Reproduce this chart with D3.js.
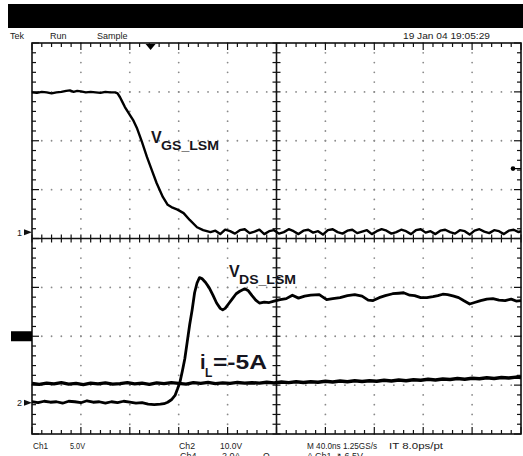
<!DOCTYPE html>
<html>
<head>
<meta charset="utf-8">
<script src="https://cdn.jsdelivr.net/npm/d3@7"></script>
<style>
  html, body { margin: 0; padding: 0; background: #fff; }
  svg { display: block; }
  text { font-family: "Liberation Sans", Arial, sans-serif; }
</style>
</head>
<body>
<div id="scope"></div>
<script>
// traces: [time in ns, value in channel units]
const vgsTrace = [
    [0,14.3],[4,14.25],[8,14.35],[12,14.3],[16,14.2],[20,14.3],[24,14.35],[28,14.45],[31,14.5],[34,14.35],
    [37,14.45],[40,14.4],[44,14.3],[48,14.35],[52,14.3],[56,14.25],[60,14.35],[64,14.3],[68,14.3],[70,14.2],
    [72,13.8],[74,13.3],[76,12.8],[80,12.0],[83,11.4],[86,10.6],[90,9.2],[94,7.7],[98,6.35],[102,5.0],
    [107,3.6],[111,2.8],[115,2.5],[119,2.3],[124,1.95],[129,1.25],[135,0.5],[140,0.2],[146,0.0],
    [150,0.15],[154,-0.2],[158,0.25],[162,0.1],[166,-0.15],[170,0.2],[174,0.3],[178,-0.1],[182,0.05],[186,0.25],
    [190,-0.2],[194,0.1],[198,0.2],[202,-0.15],[206,0.0],[210,0.3],[214,0.1],[218,-0.2],[222,0.15],[226,0.25],
    [230,-0.05],[234,0.1],[238,-0.25],[242,0.2],[246,0.3],[250,0.0],[254,-0.15],[258,0.15],[262,0.25],[266,-0.1],
    [270,0.05],[274,0.2],[278,-0.2],[282,0.1],[286,0.3],[290,0.15],[294,-0.15],[298,0.0],[302,0.25],[306,0.1],
    [310,-0.2],[314,0.2],[318,0.3],[322,-0.05],[326,0.1],[330,-0.2],[334,0.15],[338,0.25],[342,0.0],[346,-0.15],
    [350,0.2],[354,0.1],[358,-0.25],[362,0.15],[366,0.3],[370,0.05],[374,-0.1],[378,0.2],[382,0.1],[386,-0.2],
    [390,0.15],[394,0.25],[398,0.0],[400,0.1]
];
const vdsTrace = [
    [0,0.2],[5,0.0],[10,0.3],[15,0.1],[20,0.2],[25,-0.1],[30,0.3],[35,0.2],[40,0.0],[45,0.4],
    [50,0.1],[55,0.2],[60,-0.1],[65,0.2],[70,0.0],[75,0.3],[80,0.1],[85,-0.1],[90,0.0],[95,-0.3],
    [100,-0.4],[105,-0.3],[108,-0.2],[111,0.1],[114,0.6],[117,1.5],[119,2.8],[121,4.2],[123,6.5],[125,9.0],
    [127,12.5],[129,16.0],[131,19.0],[133,22.5],[135,24.5],[137,25.6],[139,25.4],[142,24.6],[145,23.5],[148,22.0],
    [151,20.4],[154,19.3],[156,19.0],[158,19.3],[161,20.3],[164,21.3],[167,22.3],[170,22.8],[174,23.3],[177,22.9],
    [180,21.9],[183,21.0],[186,20.4],[190,20.6],[194,20.5],[198,20.8],[203,21.1],[208,21.3],[213,22.0],[218,21.4],
    [223,21.8],[228,22.0],[235,22.1],[241,21.1],[246,21.3],[252,21.5],[258,21.9],[264,22.1],[270,21.8],[275,21.0],
    [279,20.9],[284,21.5],[289,21.9],[295,22.3],[300,22.4],[304,22.5],[309,22.0],[313,21.9],[318,21.5],[323,21.5],
    [328,21.7],[332,21.9],[336,22.2],[340,22.1],[345,21.8],[349,21.5],[353,20.9],[358,20.2],[362,20.5],[367,20.9],
    [372,21.2],[377,21.3],[382,21.0],[387,20.9],[392,21.2],[396,20.8],[400,20.9]
];
const ilTrace = [
    [0,-1.93],[6,-1.97],[12,-1.92],[18,-1.95],[24,-1.90],[30,-1.96],[36,-1.93],[42,-1.98],[48,-1.92],[54,-1.95],
    [60,-1.91],[66,-1.96],[72,-1.94],[78,-1.90],[84,-1.95],[90,-1.92],[96,-1.97],[102,-1.91],[108,-1.94],[114,-1.90],
    [120,-1.93],[126,-1.96],[132,-1.90],[138,-1.93],[144,-1.89],[150,-1.94],[156,-1.91],[162,-1.93],[168,-1.89],[174,-1.92],
    [180,-1.90],[186,-1.92],[192,-1.88],[198,-1.91],[204,-1.87],[210,-1.90],[216,-1.86],[222,-1.89],[228,-1.86],[234,-1.88],
    [240,-1.84],[246,-1.87],[252,-1.83],[258,-1.86],[264,-1.82],[270,-1.85],[276,-1.82],[282,-1.84],[288,-1.80],[294,-1.83],
    [300,-1.79],[306,-1.82],[312,-1.78],[318,-1.80],[324,-1.76],[330,-1.79],[336,-1.75],[342,-1.77],[348,-1.73],[354,-1.76],
    [360,-1.72],[366,-1.74],[372,-1.70],[378,-1.73],[384,-1.69],[390,-1.71],[396,-1.67],[400,-1.69]
];

// texts on the screen
const statusLabels = ['Tek', 'Run', 'Sample'];
const dateLabel = '19 Jan 04 19:05:29';
const readoutRow1 = ['Ch1', '5.0V', 'Ch2', '10.0V', 'M 40.0ns 1.25GS/s', 'IT 8.0ps/pt'];
const readoutRow2 = ['Ch4', '2.0A', '\u03a9', 'A  Ch1  \u2197  6.5V'];
const vgsLabel = ['V', 'GS_LSM'];
const vdsLabel = ['V', 'DS_LSM'];
const ilLabel = ['i', 'L', '=-5A'];

// scope settings: units per division and ground position in divisions from centre
const ch1 = {perDiv: 5, position: 0.13};
const ch2 = {perDiv: 10, position: -3.36};
const ch4 = {perDiv: 2, position: -2.0};
const timePerDiv = 40;
const triggerTime = 97;
const triggerLevel = 6.5;

const width = 523, height = 456;
const margin = {top: 43, right: 2, bottom: 22, left: 32};
const plotW = width - margin.left - margin.right;
const plotH = height - margin.top - margin.bottom;

const svg = d3.select('#scope').append('svg')
    .attr('width', width)
    .attr('height', height);

// black title strip
svg.append('rect').attr('x', 8).attr('y', 4).attr('width', width - 8).attr('height', 24).attr('fill', '#000');

const x = d3.scaleLinear().domain([0, 10 * timePerDiv]).range([0, plotW]);
const yDiv = d3.scaleLinear().domain([-4, 4]).range([plotH, 0]);
// per channel value -> pixel
const yCh = ch => v => yDiv(v / ch.perDiv + ch.position);

const g = svg.append('g').attr('transform', `translate(${margin.left},${margin.top})`);

// dotted graticule
const dots = g.append('g').attr('fill', '#8a8a8a');
d3.range(1, 10).filter(i => i !== 5).forEach(i => {
    d3.range(-20, 21).forEach(k => {
        dots.append('circle').attr('cx', x(i * timePerDiv)).attr('cy', yDiv(k * 0.2)).attr('r', 0.9);
    });
});
d3.range(-3, 4).filter(j => j !== 0).forEach(j => {
    d3.range(0, 51).forEach(k => {
        dots.append('circle').attr('cx', x(k * timePerDiv / 5)).attr('cy', yDiv(j)).attr('r', 0.9);
    });
});

// centre axes with minor ticks
const axes = g.append('g').attr('stroke', '#111');
const cx = x(5 * timePerDiv), cy = yDiv(0);
axes.append('line').attr('x1', 0).attr('x2', plotW).attr('y1', cy).attr('y2', cy).attr('stroke-width', 1.6);
axes.append('line').attr('x1', cx).attr('x2', cx).attr('y1', 0).attr('y2', plotH).attr('stroke-width', 1.6);
d3.range(0, 51).forEach(k => {
    const px = x(k * timePerDiv / 5);
    axes.append('line').attr('x1', px).attr('x2', px).attr('y1', cy - 4).attr('y2', cy + 4).attr('stroke-width', 1.2);
    // border ticks top and bottom
    const len = k % 5 === 0 ? 7 : 4;
    axes.append('line').attr('x1', px).attr('x2', px).attr('y1', 0).attr('y2', len).attr('stroke-width', 1.2);
    axes.append('line').attr('x1', px).attr('x2', px).attr('y1', plotH).attr('y2', plotH - len).attr('stroke-width', 1.2);
});
d3.range(-20, 21).forEach(k => {
    const py = yDiv(k * 0.2);
    axes.append('line').attr('x1', cx - 4).attr('x2', cx + 4).attr('y1', py).attr('y2', py).attr('stroke-width', 1.2);
    const len = k % 5 === 0 ? 7 : 4;
    axes.append('line').attr('x1', 0).attr('x2', len).attr('y1', py).attr('y2', py).attr('stroke-width', 1.2);
    axes.append('line').attr('x1', plotW).attr('x2', plotW - len).attr('y1', py).attr('y2', py).attr('stroke-width', 1.2);
});
g.append('rect').attr('width', plotW).attr('height', plotH)
    .attr('fill', 'none').attr('stroke', '#111').attr('stroke-width', 1.6);

// traces
const drawTrace = (data, ch, w) => {
    const line = d3.line().x(d => x(d[0])).y(d => yCh(ch)(d[1]));
    g.append('path').datum(data)
        .attr('d', line)
        .attr('fill', 'none')
        .attr('stroke', '#000')
        .attr('stroke-width', w)
        .attr('stroke-linejoin', 'round');
};
drawTrace(ilTrace, ch4, 3.4);
drawTrace(vdsTrace, ch2, 2.8);
drawTrace(vgsTrace, ch1, 2.4);

// ground markers on the left
[[ch1, '1'], [ch2, '2']].forEach(([ch, name]) => {
    const py = margin.top + yCh(ch)(0);
    svg.append('text').attr('x', 17).attr('y', py + 3.5).attr('font-size', 9).attr('fill', '#222').text(name);
    svg.append('path').attr('d', `M24,${py - 3}L32,${py}L24,${py + 3}Z`).attr('fill', '#111');
});
const ch4y = margin.top + yCh(ch4)(0);
svg.append('rect').attr('x', 11).attr('y', ch4y - 5).attr('width', 21).attr('height', 10).attr('fill', '#000');

// trigger position and level markers
const tx = margin.left + x(triggerTime);
svg.append('path').attr('d', `M${tx - 5},${margin.top + 1}L${tx + 5},${margin.top + 1}L${tx},${margin.top + 7}Z`).attr('fill', '#000');
const ty = margin.top + yCh(ch1)(triggerLevel);
svg.append('circle').attr('cx', 513).attr('cy', ty).attr('r', 2.3).attr('fill', '#000');
svg.append('line').attr('x1', 513).attr('x2', 521).attr('y1', ty).attr('y2', ty).attr('stroke', '#000').attr('stroke-width', 1.2);

// status line
const statusX = [10, 50, 97];
statusLabels.forEach((s, i) => {
    svg.append('text').attr('x', statusX[i]).attr('y', 39).attr('font-size', 9).attr('fill', '#222').text(s);
});
svg.append('text').attr('x', 403).attr('y', 39).attr('font-size', 9).attr('fill', '#222')
    .attr('textLength', 87).attr('lengthAdjust', 'spacingAndGlyphs').text(dateLabel);

// readout at the bottom
const row1X = [33, 70, 179, 220, 307, 389];
const row1W = [15, 15, 16, 22, 70, 54];
readoutRow1.forEach((s, i) => {
    svg.append('text').attr('x', row1X[i]).attr('y', 448.5).attr('font-size', 9).attr('fill', '#222')
        .attr('textLength', row1W[i]).attr('lengthAdjust', 'spacingAndGlyphs').text(s);
});
// second row is cut by the bottom edge of the screenshot
const row2X = [180, 222, 263, 307];
readoutRow2.forEach((s, i) => {
    svg.append('text').attr('x', row2X[i]).attr('y', 459).attr('font-size', 9).attr('fill', '#222').text(s);
});

// trace labels
const addLabel = (px, py, big, sub, subW) => {
    const t = svg.append('text').attr('fill', '#151520').attr('font-weight', 'bold');
    t.append('tspan').attr('x', px).attr('y', py).attr('font-size', 16).text(big);
    t.append('tspan').attr('x', px + 10).attr('y', py + 7).attr('font-size', 12)
        .attr('textLength', subW).attr('lengthAdjust', 'spacingAndGlyphs').text(sub);
};
addLabel(151, 143, vgsLabel[0], vgsLabel[1], 58);
addLabel(229, 277, vdsLabel[0], vdsLabel[1], 57);

const il = svg.append('text').attr('fill', '#151520').attr('font-weight', 'bold');
il.append('tspan').attr('x', 200).attr('y', 369).attr('font-size', 20).text(ilLabel[0]);
il.append('tspan').attr('x', 205).attr('y', 377).attr('font-size', 12).text(ilLabel[1]);
il.append('tspan').attr('x', 213).attr('y', 369).attr('font-size', 20)
    .attr('textLength', 54).attr('lengthAdjust', 'spacingAndGlyphs').text(ilLabel[2]);
</script>
</body>
</html>
